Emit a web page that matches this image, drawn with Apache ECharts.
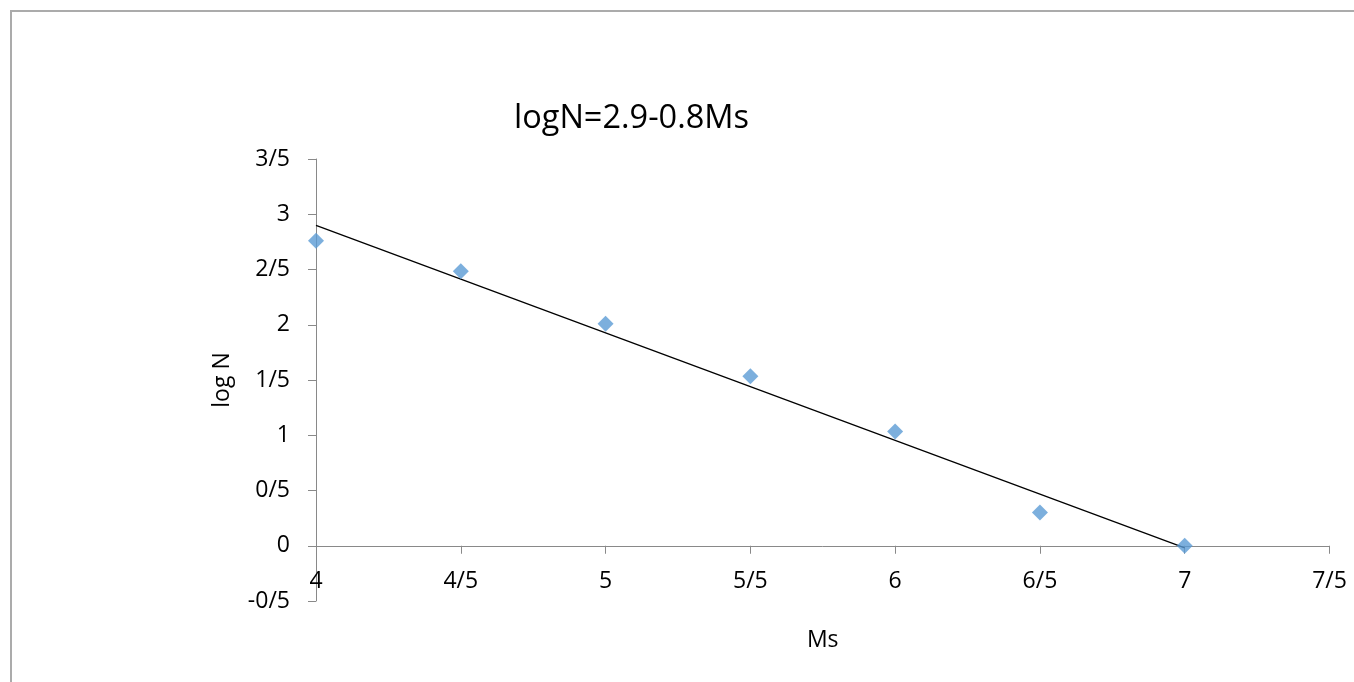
<!DOCTYPE html>
<html>
<head>
<meta charset="utf-8">
<script src="https://cdn.jsdelivr.net/npm/echarts@6/dist/echarts.min.js"></script>
<style>
html,body{margin:0;padding:0;background:#fff;}
#chart{width:1354px;height:682px;}
</style>
</head>
<body>
<div id="chart"></div>
<script>
var titleText = 'logN=2.9-0.8Ms';
var xName = 'Ms';
var yName = 'log N';
var ms = [4, 4.5, 5, 5.5, 6, 6.5, 7];
var logN = [2.76, 2.485, 2.01, 1.535, 1.035, 0.30, 0.0];
var trendX = [4, 7];
var trendY = [2.90, -0.02];

var FONT = 'Open Sans';
function fmt(v){ return String(v).replace('.', '/'); }

var chart = echarts.init(document.getElementById('chart'), null, {renderer:'canvas'});
chart.setOption({
  backgroundColor: '#ffffff',
  animation: false,
  graphic: [{
    type: 'rect', z: -10, silent: true,
    shape: {x: 11, y: 11, width: 1400, height: 720},
    style: {fill: 'none', stroke: '#ababab', lineWidth: 2}
  }],
  title: {
    text: titleText,
    left: 509, top: 97,
    textStyle: {fontFamily: FONT, fontSize: 32.5, fontWeight: 'normal', color: '#000'}
  },
  grid: {left: 316, right: 24.5, top: 159, bottom: 81, containLabel: false, outerBoundsMode: 'none'},
  xAxis: {
    type: 'value', min: 4, max: 7.5, interval: 0.5,
    name: xName, nameLocation: 'middle', nameGap: 28,
    nameTextStyle: {fontFamily: FONT, fontSize: 23, color: '#000'},
    axisLine: {show: true, onZero: true, lineStyle: {color: '#898989', width: 1}},
    axisTick: {show: true, inside: false, length: 8, lineStyle: {color: '#898989'}},
    axisLabel: {fontFamily: FONT, fontSize: 23, color: '#000', margin: -31, formatter: fmt},
    splitLine: {show: false}
  },
  yAxis: {
    type: 'value', min: -0.5, max: 3.5, interval: 0.5,
    name: yName, nameLocation: 'middle', nameGap: 82,
    nameTextStyle: {fontFamily: FONT, fontSize: 23, color: '#000'},
    axisLine: {show: true, onZero: false, lineStyle: {color: '#898989', width: 1}},
    axisTick: {show: true, inside: false, length: 8, lineStyle: {color: '#898989'}},
    axisLabel: {fontFamily: FONT, fontSize: 23, color: '#000', margin: 26, formatter: fmt},
    splitLine: {show: false}
  },
  series: [{
    type: 'line',
    data: trendX.map(function(x, i){ return [x, trendY[i]]; }),
    showSymbol: false, symbol: 'none',
    lineStyle: {color: '#000', width: 1.3},
    z: 2
  }, {
    type: 'scatter',
    data: ms.map(function(x, i){ return [x, logN[i]]; }),
    symbol: 'diamond', symbolSize: [16, 16],
    itemStyle: {color: '#5b9bd5'},
    z: 3
  }]
});
</script>
</body>
</html>
